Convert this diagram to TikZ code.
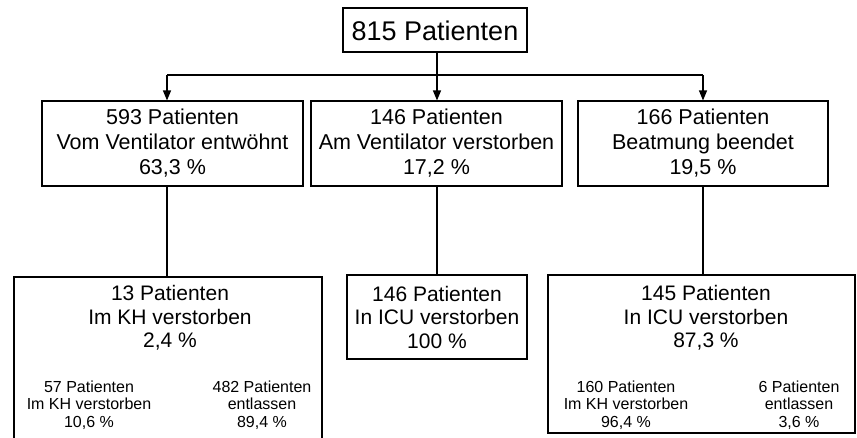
\documentclass[tikz,border=0pt]{standalone}
\usepackage{fontspec}
\setmainfont{Liberation Sans}
\usetikzlibrary{arrows.meta}
\begin{document}
\begin{tikzpicture}[x=1pt,y=-1pt,
  box/.style={draw=black,line width=1.1pt,inner sep=0pt,rectangle},
  bigtxt/.style={align=center,inner sep=0pt,font=\fontsize{27}{30}\selectfont},
  midtxt/.style={align=center,inner sep=0pt,font=\fontsize{21.5}{25}\selectfont},
  lowtxt/.style={align=center,inner sep=0pt,font=\fontsize{21}{23.5}\selectfont},
  smalltxt/.style={align=center,inner sep=0pt,font=\fontsize{16}{17.5}\selectfont},
  link/.style={line width=1.1pt,draw=black},
  arr/.style={link,-{Triangle[length=10pt,width=8pt]}}]
\clip (0,0) rectangle (857,437);
\fill[white] (0,0) rectangle (857,437);
% top
\node[box,minimum width=184pt,minimum height=44pt] (top) at (435,30) {};
\node[bigtxt] (toptxt) at (435,31) {815 Patienten};
% middle row
\node[box,minimum width=261pt,minimum height=85pt] (m1) at (172.5,143.5) {};
\node[midtxt] (m1t) at (172.5,143.5) {593 Patienten\\Vom Ventilator entwöhnt\\63,3 \%};
\node[box,minimum width=251pt,minimum height=85pt] (m2) at (436.5,143.5) {};
\node[midtxt] (m2t) at (436.5,143.5) {146 Patienten\\Am Ventilator verstorben\\17,2 \%};
\node[box,minimum width=250pt,minimum height=85pt] (m3) at (703,143.5) {};
\node[midtxt] (m3t) at (703,143.5) {166 Patienten\\Beatmung beendet\\19,5 \%};
% bottom row
\node[box,minimum width=308pt,minimum height=180pt] (l1) at (168,367) {};
\node[lowtxt] (l1t) at (170,318) {13 Patienten\\Im KH verstorben\\2,4 \%};
\node[smalltxt] (l1a) at (89,405) {57 Patienten\\Im KH verstorben\\10,6 \%};
\node[smalltxt] (l1b) at (262,405) {482 Patienten\\entlassen\\89,4 \%};
\node[box,minimum width=180pt,minimum height=84pt] (l2) at (437,317) {};
\node[lowtxt] (l2t) at (437,317) {146 Patienten\\In ICU verstorben\\100 \%};
\node[box,minimum width=307pt,minimum height=158pt] (l3) at (701.5,354) {};
\node[lowtxt] (l3t) at (706,318) {145 Patienten\\In ICU verstorben\\87,3 \%};
\node[smalltxt] (l3a) at (626,405) {160 Patienten\\Im KH verstorben\\96,4 \%};
\node[smalltxt] (l3b) at (799,405) {6 Patienten\\entlassen\\3,6 \%};
% connectors
\coordinate (jl) at (167,75);
\coordinate (jc) at (437,75);
\coordinate (jr) at (703,75);
\draw[arr] (jc |- top.south) -- (jc |- m2.north);
\draw[link] (jl) -- (jr);
\draw[arr] (jl) -- (jl |- m1.north);
\draw[arr] (jr) -- (jr |- m3.north);
\draw[link] (jl |- m1.south) -- (jl |- l1.north);
\draw[link] (jc |- m2.south) -- (l2.north);
\draw[link] (jr |- m3.south) -- (jr |- l3.north);
\end{tikzpicture}
\end{document}
